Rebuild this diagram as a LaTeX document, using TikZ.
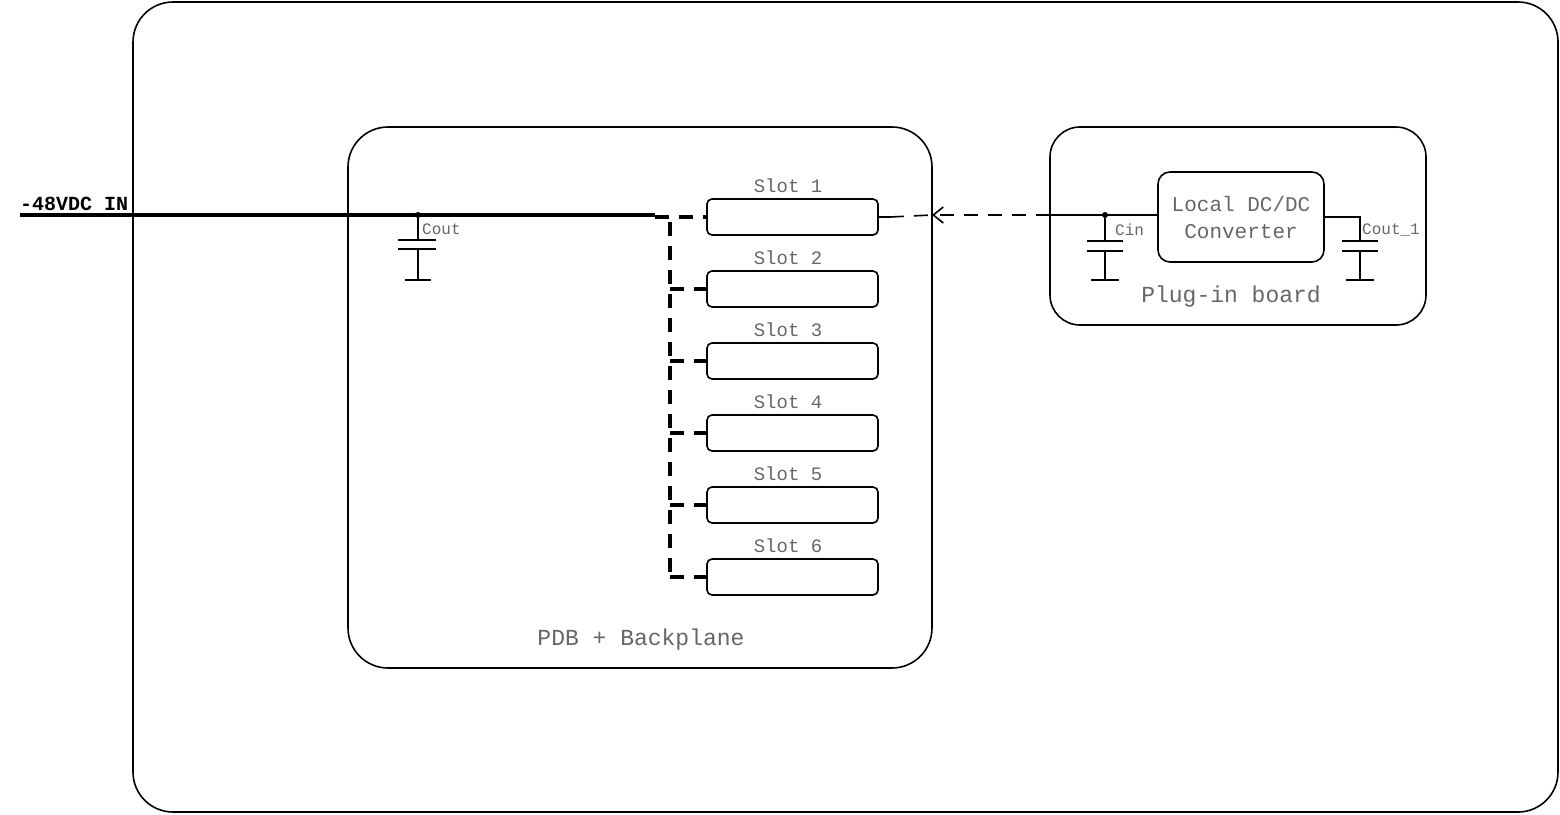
\documentclass[tikz,border=0pt]{standalone}
\usepackage{fontspec}
\setmainfont{Liberation Mono}
\usetikzlibrary{arrows.meta}
\begin{document}
\begin{tikzpicture}[x=1pt,y=-1pt,
  box/.style={draw,line width=1.6pt},
  w/.style={line width=1.6pt},
  thick/.style={line width=3.6pt},
  lbl/.style={text=black!60,inner sep=0pt},
  dot/.style={circle,fill,inner sep=0pt,minimum size=6pt}]
\useasboundingbox (0,0) rectangle (1560,814);
\draw[box,rounded corners=40] (133,2) rectangle (1558,812);
\draw[box,rounded corners=40] (348,127) rectangle (932,668);
\draw[box,rounded corners=30] (1050,127) rectangle (1426,325);
\node[lbl,font=\fontsize{23}{23}\selectfont] (pdb) at (641,640) {PDB + Backplane};
\node[lbl,font=\fontsize{23}{23}\selectfont] (plug) at (1231,297) {Plug-in board};
\node[draw,w,rounded corners=12,minimum width=166pt,minimum height=90pt,lbl,align=center,font=\fontsize{21}{27}\selectfont,inner sep=0pt] (conv) at (1241,217) {Local DC/DC\\Converter};
\foreach \k in {1,...,6}{
  \node[draw,w,rounded corners=5,minimum width=171pt,minimum height=36pt,inner sep=0pt] (s\k) at (792.5,{217+72*(\k-1)}) {};
  \node[lbl,font=\fontsize{19}{19}\selectfont] (sl\k) at (788,{186+72*(\k-1)}) {Slot \k};
}
% input
\coordinate (in) at (20,215);
\coordinate (busend) at (655,215);
\node[anchor=west,inner sep=0pt,font=\bfseries\fontsize{20}{20}\selectfont] (inl) at (20,204) {-48VDC IN};
\draw[thick] (in) -- (busend);
\node[dot] (d1) at (418,215) {};
\draw[w] (d1) -- (418,240) (398,240) -- (436,240) (398,249) -- (436,249) (418,249) -- (418,280) (405,280) -- (431,280);
\node[lbl,anchor=west,font=\fontsize{16}{16}\selectfont] (cout) at (422,229) {Cout};
% dashed distribution
\coordinate (vtop) at (670,217);
\coordinate (vbot) at (670,577);
\draw[thick,dash pattern=on 14pt off 10pt] (busend) ++(0,2) -- (s1.west);
\draw[thick,dash pattern=on 14pt off 10pt] (670,222) -- (vbot);
\foreach \k in {2,...,6}{
  \draw[thick,dash pattern=on 14pt off 10pt] (670,{217+72*(\k-1)}) -- (s\k.west);
}
% plug-in connection
\coordinate (pin) at (1050,215);
\coordinate (arr) at (932,215);
\draw[w] (s1.east) -- (890,217);
\draw[w,dash pattern=on 14pt off 10pt] (890,217) -- (arr);
\draw[w,dash pattern=on 14pt off 10pt,-{Straight Barb[length=10pt,width=16pt,line width=1.6pt]}] (pin) -- (arr);
\draw[w] (pin) -- (conv.west |- pin);
\node[dot] (d2) at (1105,215) {};
\draw[w] (d2) -- (1105,241) (1087,241) -- (1123,241) (1087,251) -- (1123,251) (1105,251) -- (1105,280) (1091,280) -- (1119,280);
\node[lbl,anchor=west,font=\fontsize{16}{16}\selectfont] (cin) at (1115,230) {Cin};
\draw[w] (conv.east |- 0,217) -- (1360,217) -- (1360,241) (1342,241) -- (1378,241) (1342,251) -- (1378,251) (1360,251) -- (1360,280) (1346,280) -- (1374,280);
\node[lbl,anchor=west,font=\fontsize{16}{16}\selectfont] (cout1) at (1362,230) {Cout\_1};
\end{tikzpicture}
\end{document}
